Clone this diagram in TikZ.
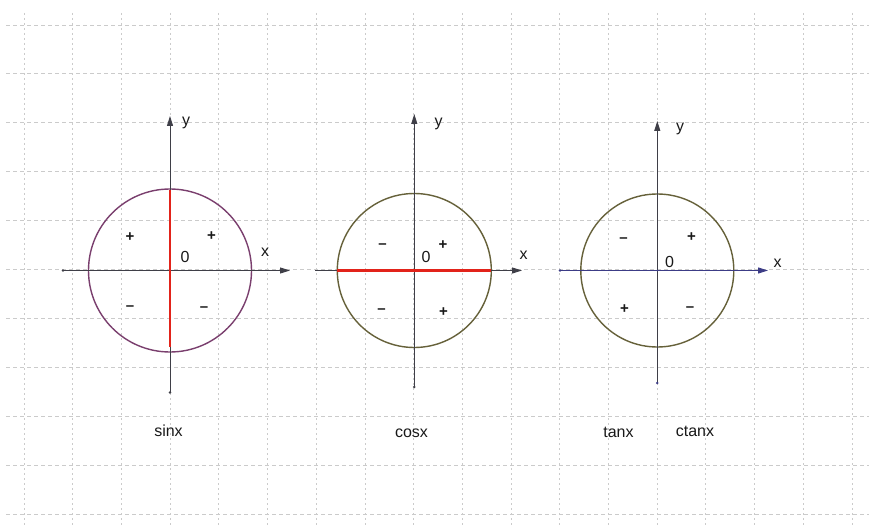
\documentclass[tikz,border=0pt]{standalone}
\usepackage{fontspec}
\setmainfont{Liberation Sans}
\usetikzlibrary{arrows.meta}
\definecolor{gridc}{HTML}{CBCBCB}
\definecolor{axisc}{HTML}{3F3F48}
\definecolor{purplec}{HTML}{7A3F6E}
\definecolor{olivec}{HTML}{66613A}
\definecolor{redc}{HTML}{E2231A}
\definecolor{navyc}{HTML}{3C3C86}
\begin{document}
\begin{tikzpicture}[x=1pt,y=-1pt,
  hgrid/.style={gridc, line width=0.8pt, dash pattern=on 4pt off 3pt},
  vgrid/.style={gridc, line width=0.8pt, dash pattern=on 2pt off 3pt},
  axisline/.style={axisc, line width=1pt, -{Triangle[length=10pt,width=6pt]}},
  unitcircle/.style={circle, draw, line width=1.4pt, inner sep=0pt},
  redseg/.style={redc, line width=2.2pt},
  lbl/.style={font=\fontsize{16}{18}\selectfont, text=black!90, inner sep=0pt},
  sgn/.style={font=\fontsize{15}{17}\selectfont\bfseries, text=black!90, inner sep=0pt},
  enddot/.style={circle, fill=axisc, inner sep=0pt, minimum size=2.8pt}
]
\useasboundingbox (0,0) rectangle (869,529);
\fill[white] (0,0) rectangle (869,529);
% grid
\foreach \k in {0,...,17}{
  \draw[vgrid] ({24+48.7*\k},13) -- ({24+48.7*\k},527);
}
\foreach \k in {0,...,10}{
  \draw[hgrid] (6,{25+48.9*\k}) -- (869,{25+48.9*\k});
}

% ---------- sin x ----------
\node[unitcircle, draw=purplec, minimum size=163pt] (c1) at (170,270.5) {};
\coordinate (s-l) at (63,270.5);
\coordinate (s-r) at (290,270.5);
\coordinate (s-b) at (170,392.5);
\coordinate (s-t) at (170,116);
\coordinate (s-rt) at (170,190);
\coordinate (s-rb) at (170,347);
\draw[axisline] (s-l) -- (s-r);
\draw[axisline] (s-b) -- (s-t);
\draw[redseg] (s-rt) -- (s-rb);
\node[enddot] (s-ld) at (s-l) {};
\node[enddot] (s-bd) at (s-b) {};
\node[lbl] (s-y) at (186,122.5) {y};
\node[lbl] (s-x) at (265,252) {x};
\node[lbl] (s-o) at (185,257) {0};
\node[sgn] (s-p1) at (130,237) {+};
\node[sgn] (s-p2) at (211.5,236) {+};
\node[sgn] (s-m1) at (130,308) {--};
\node[sgn] (s-m2) at (204,309) {--};
\node[lbl] (s-name) at (168.5,431) {sinx};

% ---------- cos x ----------
\node[unitcircle, draw=olivec, minimum size=154pt] (c2) at (414.3,270.5) {};
\coordinate (c-l) at (315,270.5);
\coordinate (c-r) at (522,270.5);
\coordinate (c-b) at (414.3,387);
\coordinate (c-t) at (414.3,114);
\coordinate (c-rl) at (337.3,270.5);
\coordinate (c-rr) at (491.3,270.5);
\draw[axisline] (c-l) -- (c-r);
\draw[axisline] (c-b) -- (c-t);
\draw[redseg] (c-rl) -- (c-rr);
\node[enddot] (c-bd) at (c-b) {};
\node[lbl] (c-y) at (438.5,123.5) {y};
\node[lbl] (c-x) at (523.5,255) {x};
\node[lbl] (c-o) at (426,257) {0};
\node[sgn] (c-p1) at (443,245.5) {+};
\node[sgn] (c-m1) at (382.5,246.5) {--};
\node[sgn] (c-m2) at (381.5,311.5) {--};
\node[sgn] (c-p2) at (443.5,312.5) {+};
\node[lbl] (c-name) at (411.5,433) {cosx};

% ---------- tan x / ctan x ----------
\node[unitcircle, draw=olivec, minimum size=153pt] (c3) at (657.3,270.5) {};
\coordinate (t-l) at (560,270.5);
\coordinate (t-r) at (768,270.5);
\coordinate (t-b) at (657.3,383);
\coordinate (t-t) at (657.3,121);
\draw[axisline, navyc] (t-l) -- (t-r);
\draw[axisline] (t-b) -- (t-t);
\node[enddot, fill=navyc] (t-ld) at (t-l) {};
\node[enddot, fill=navyc] (t-bd) at (t-b) {};
\node[enddot, fill=navyc, minimum size=2pt] (t-od) at (657.3,270.5) {};
\node[lbl] (t-y) at (680,128.5) {y};
\node[lbl] (t-x) at (777.5,263.5) {x};
\node[lbl] (t-o) at (669.5,261.5) {0};
\node[sgn] (t-p1) at (691.5,237.5) {+};
\node[sgn] (t-m1) at (623.5,240.5) {--};
\node[sgn] (t-p2) at (624.5,309.5) {+};
\node[sgn] (t-m2) at (690,309.5) {--};
\node[lbl] (t-name) at (618.5,432) {tanx};
\node[lbl] (ct-name) at (695,431) {ctanx};
\end{tikzpicture}
\end{document}
